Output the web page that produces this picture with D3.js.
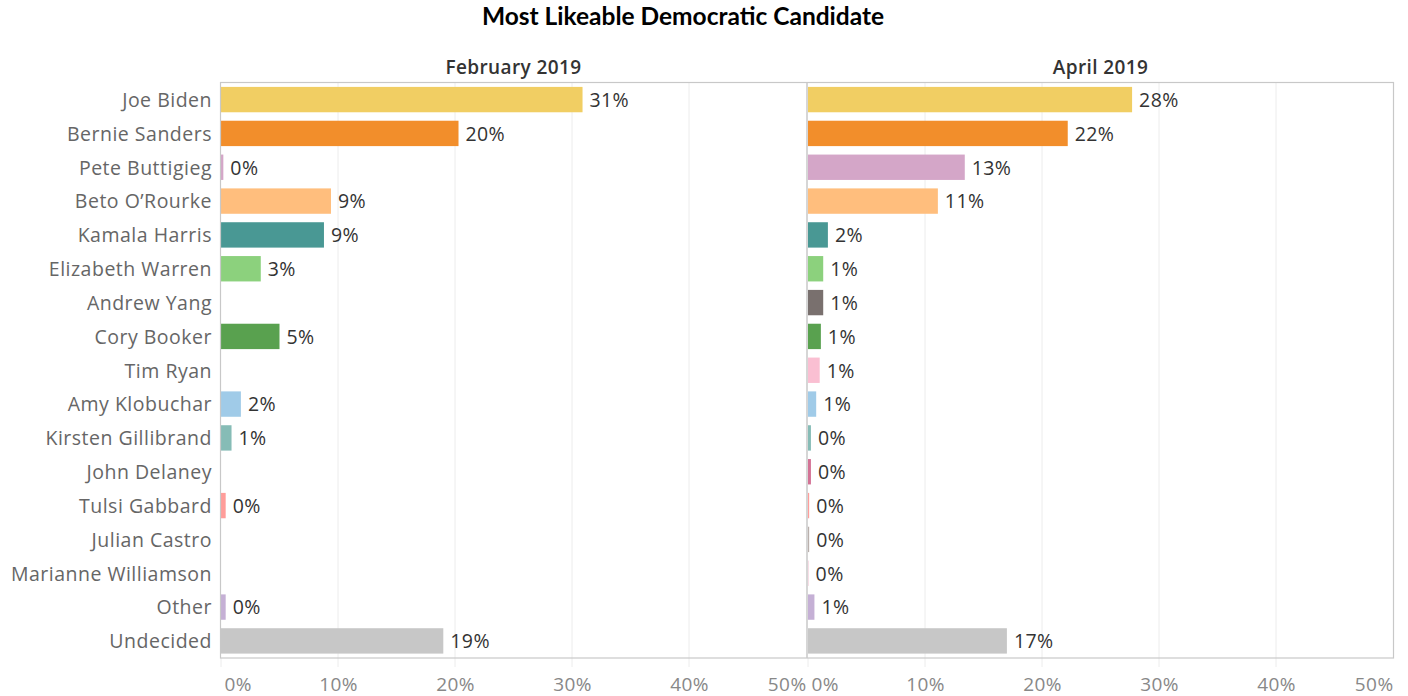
<!DOCTYPE html>
<html>
<head>
  <script src="https://d3js.org/d3.v7.min.js"></script>
  <style>
    body { margin: 0; background: #fff; font-family: "Open Sans", Lato, sans-serif; }
    .title { font-family: Lato, sans-serif; font-weight: bold; font-size: 24.5px; fill: #000; }
    .header { font-size: 19px; fill: #333; font-weight: 600; letter-spacing: 0.4px; }
    .cat { font-size: 19.5px; fill: #666; letter-spacing: 0.5px; }
    .val { font-size: 19.5px; fill: #333; letter-spacing: 0.4px; }
    .tick text { font-size: 19px; fill: #888; font-family: "Open Sans", sans-serif; letter-spacing: 0.4px; }
  </style>
</head>
<body>
  <div id="chart"></div>
  <script>
    // Data
    const candidates = ["Joe Biden", "Bernie Sanders", "Pete Buttigieg", "Beto O\u2019Rourke", "Kamala Harris",
      "Elizabeth Warren", "Andrew Yang", "Cory Booker", "Tim Ryan", "Amy Klobuchar", "Kirsten Gillibrand",
      "John Delaney", "Tulsi Gabbard", "Julian Castro", "Marianne Williamson", "Other", "Undecided"];
    const periods = ["February 2019", "April 2019"];
    // null = no response recorded in that wave
    const feb = [30.9, 20.3, 0.2, 9.4, 8.8, 3.4, null, 5.0, null, 1.7, 0.9, null, 0.4, null, null, 0.4, 19.0];
    const apr = [27.7, 22.2, 13.4, 11.1, 1.7, 1.3, 1.3, 1.1, 1.0, 0.7, 0.25, 0.25, 0.1, 0.1, 0.05, 0.55, 17.0];
    const colors = ["#f1ce63", "#f28e2b", "#d4a6c8", "#ffbe7d", "#499894", "#8cd17d", "#79706e", "#59a14f",
      "#fabfd2", "#a0cbe8", "#86bcb6", "#d37295", "#ff9d9a", "#bab0ac", "#f4c6d6", "#c5b0d5", "#c7c7c7"];
    const ticks = [0, 10, 20, 30, 40, 50];

    const W = 1408, H = 696;
    const plotLeft = 220, plotRight = 1394, plotTop = 82.5, plotBottom = 658;
    const panelW = (plotRight - plotLeft) / 2;

    const svg = d3.select("#chart").append("svg")
      .attr("width", W).attr("height", H);

    svg.append("text").attr("class", "title")
      .attr("x", 683).attr("y", 25).attr("text-anchor", "middle")
      .text("Most Likeable Democratic Candidate");

    const y = d3.scaleBand().domain(candidates).range([plotTop, plotBottom])
      .paddingInner(0.25).paddingOuter(0.13);

    // category labels
    svg.append("g").selectAll("text").data(candidates).join("text")
      .attr("class", "cat")
      .attr("x", plotLeft - 8)
      .attr("y", d => y(d) + y.bandwidth() / 2)
      .attr("dy", "0.38em")
      .attr("text-anchor", "end")
      .text(d => d);

    [feb, apr].forEach((vals, p) => {
      const x0 = plotLeft + p * panelW;
      const x = d3.scaleLinear().domain([0, 50]).range([x0 + 1, x0 + panelW - 1]);
      const g = svg.append("g");

      // gridlines (extend a bit below the frame like tick marks)
      g.selectAll("line.grid").data(ticks.slice(1, 5)).join("line")
        .attr("x1", d => x(d)).attr("x2", d => x(d))
        .attr("y1", plotTop).attr("y2", plotBottom + 9)
        .attr("stroke", "#ececec").attr("stroke-width", 1);
      g.append("line")
        .attr("x1", x(0)).attr("x2", x(0)).attr("y1", plotBottom).attr("y2", plotBottom + 9)
        .attr("stroke", "#ececec");

      // axis: end labels are kept inside the panel
      const axis = g.append("g")
        .attr("transform", `translate(0,${plotBottom + 12})`)
        .call(d3.axisBottom(x).tickValues(ticks).tickFormat(d => d + "%").tickSize(0).tickPadding(8));
      axis.select(".domain").remove();
      axis.selectAll(".tick text")
        .attr("text-anchor", d => d === 0 ? "start" : d === 50 ? "end" : "middle")
        .attr("dx", d => d === 0 ? 3 : 0);

      // header
      g.append("text").attr("class", "header")
        .attr("x", x0 + panelW / 2).attr("y", plotTop - 9).attr("text-anchor", "middle")
        .text(periods[p]);

      const rows = candidates.map((c, i) => ({ c, v: vals[i], color: colors[i] })).filter(d => d.v !== null);

      g.selectAll("rect").data(rows).join("rect")
        .attr("x", x(0))
        .attr("y", d => y(d.c))
        .attr("width", d => x(d.v) - x(0))
        .attr("height", y.bandwidth())
        .attr("fill", d => d.color);

      g.selectAll("text.val").data(rows).join("text")
        .attr("class", "val")
        .attr("x", d => x(d.v) + 7)
        .attr("y", d => y(d.c) + y.bandwidth() / 2)
        .attr("dy", "0.38em")
        .text(d => Math.round(d.v) + "%");
    });

    // frame and divider
    svg.append("rect")
      .attr("x", plotLeft + 0.5).attr("y", plotTop)
      .attr("width", plotRight - plotLeft - 1).attr("height", plotBottom - plotTop)
      .attr("fill", "none").attr("stroke", "#c8c8c8").attr("stroke-width", 1.2);
    svg.append("line")
      .attr("x1", plotLeft + panelW).attr("x2", plotLeft + panelW)
      .attr("y1", plotTop).attr("y2", plotBottom)
      .attr("stroke", "#c8c8c8").attr("stroke-width", 1.5);
  </script>
</body>
</html>
